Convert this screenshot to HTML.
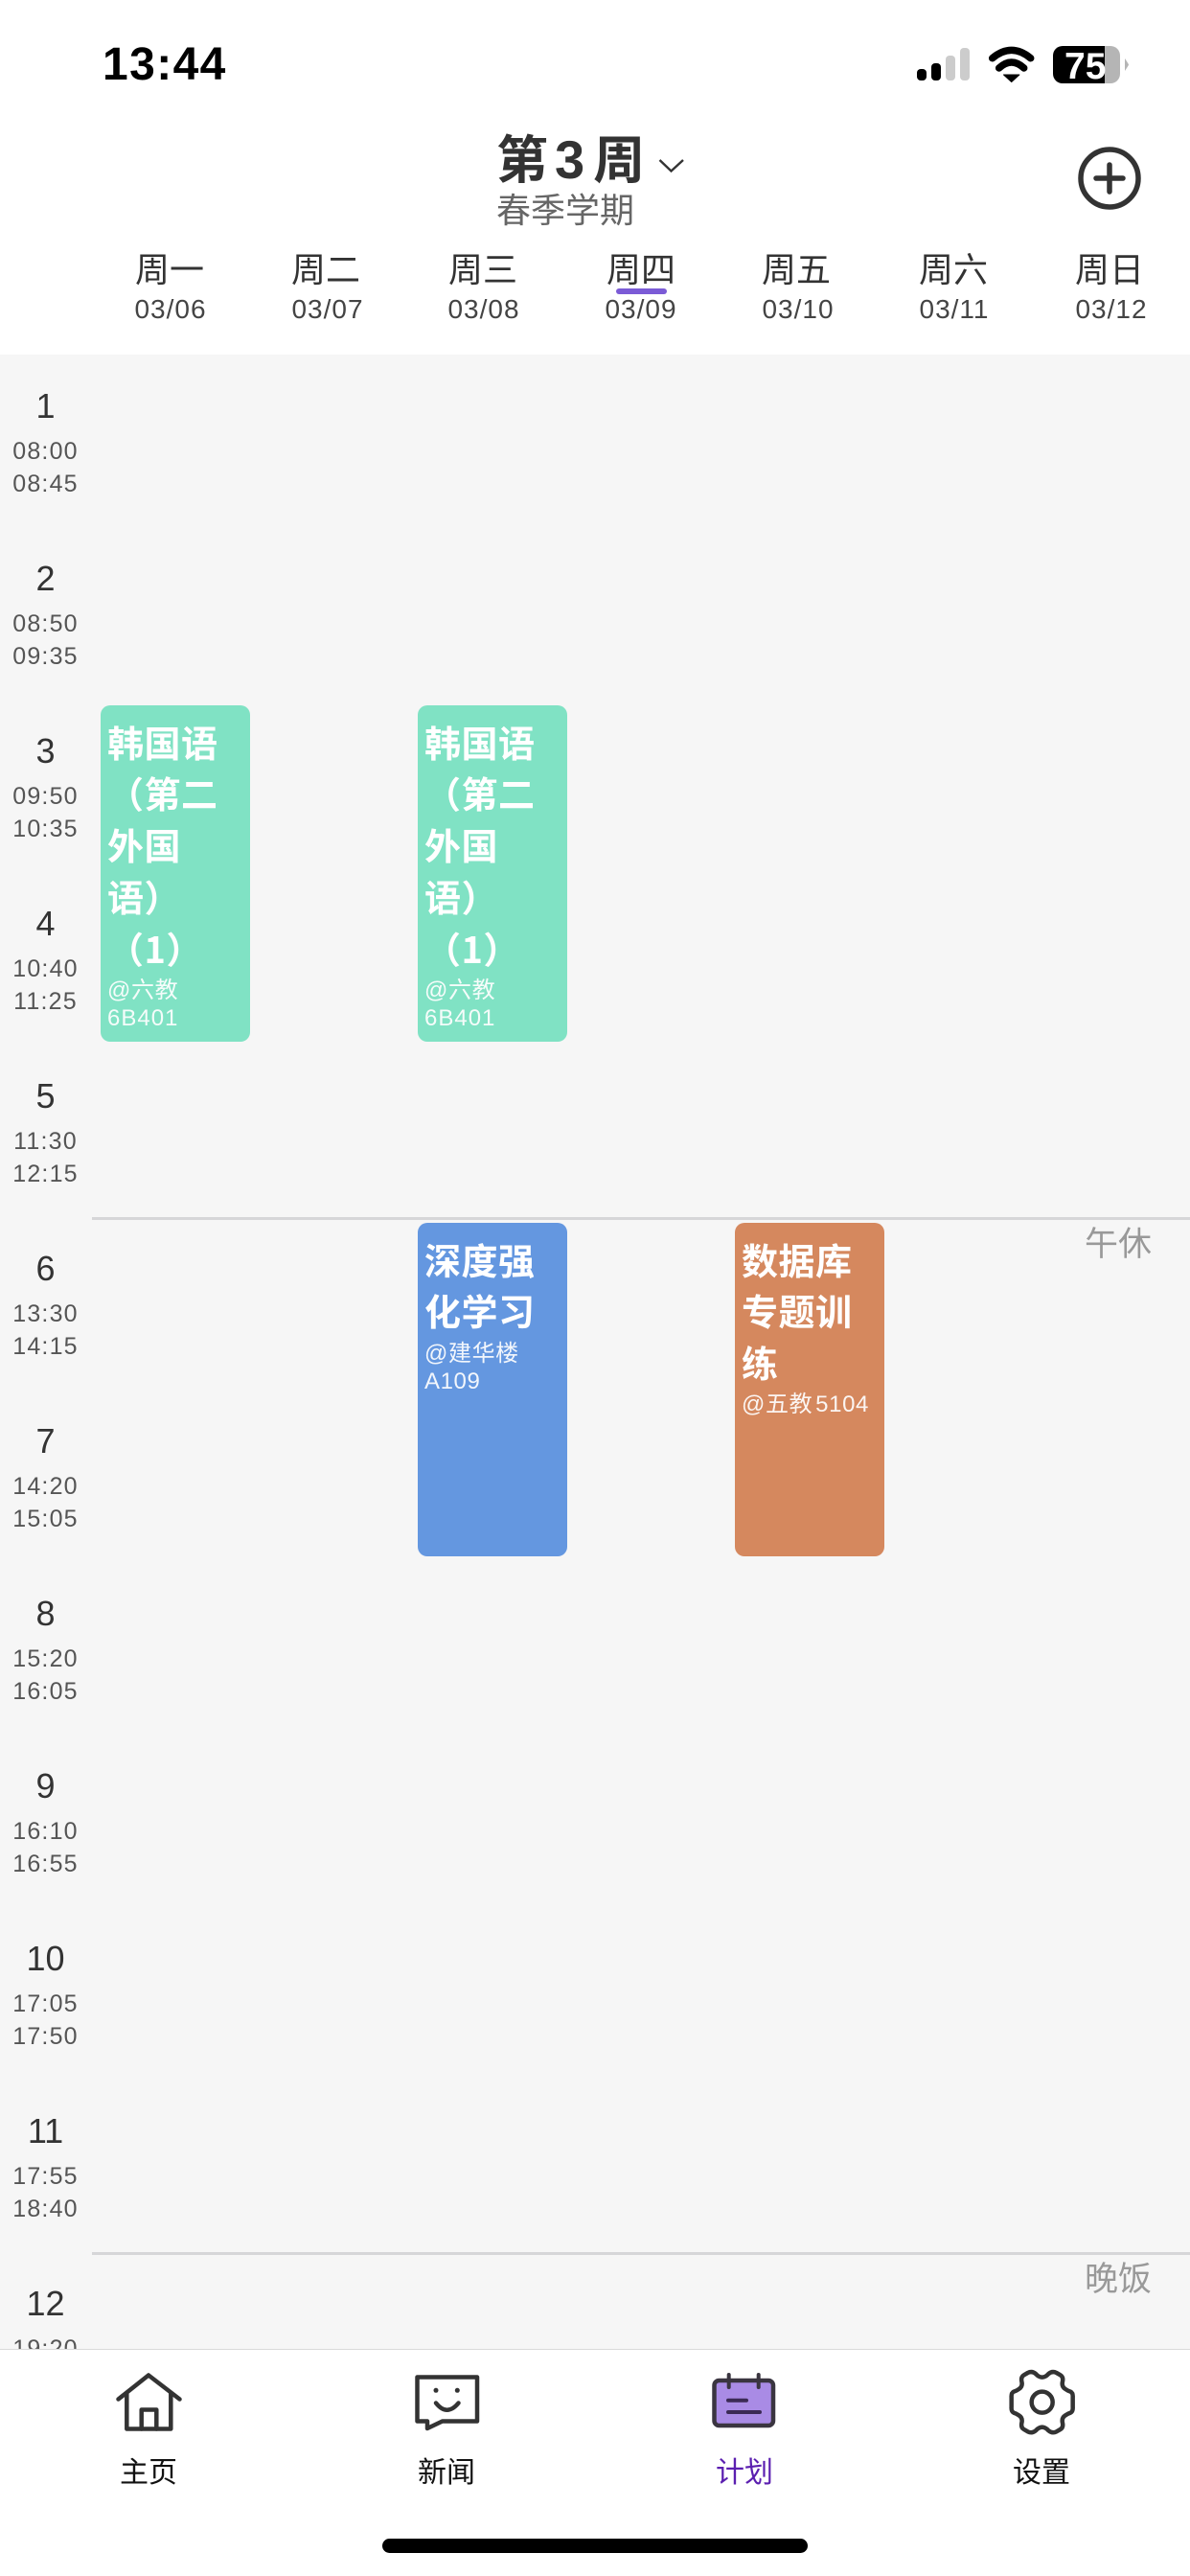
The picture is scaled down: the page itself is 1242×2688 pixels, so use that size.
<!DOCTYPE html>
<html lang="zh">
<head>
<meta charset="utf-8">
<title>课程表</title>
<style>
html,body{margin:0;padding:0;background:#fff;}
body{width:1242px;height:2688px;position:relative;overflow:hidden;font-family:"Liberation Sans","Noto Sans CJK SC",sans-serif;}
.a{position:absolute;white-space:nowrap;}
.grid{position:absolute;left:0;top:370px;width:1242px;height:2081px;background:#f6f6f6;overflow:hidden;}
.tabbar{position:absolute;left:0;top:2451px;width:1242px;height:237px;background:#fff;border-top:1px solid #d9d9d9;box-sizing:border-box;}
.d{position:absolute;width:120px;text-align:center;top:260px;font-size:36px;line-height:44px;color:#333;}
.dt{position:absolute;width:120px;text-align:center;top:303px;font-size:28px;line-height:40px;color:#444;letter-spacing:1px;}
.n{position:absolute;left:0;width:95px;text-align:center;font-size:36px;line-height:40px;color:#333;}
.t{position:absolute;left:0;width:95px;text-align:center;font-size:25px;line-height:34px;color:#555;letter-spacing:1.2px;margin-top:.5px;}
.card{position:absolute;width:156px;border-radius:10px;box-sizing:border-box;padding:10.5px 0 0 7px;color:#fff;white-space:nowrap;}
.card b{display:block;font-size:38px;line-height:53.75px;font-weight:700;letter-spacing:.5px;font-family:"Noto Sans CJK SC","Liberation Sans",sans-serif;}
.card span{display:block;font-size:24px;line-height:29px;letter-spacing:.6px;opacity:.92;margin-top:3.5px;}
.line{position:absolute;left:96px;width:1146px;height:3px;background:#d6d6d8;}
.side{position:absolute;left:1132px;font-size:35px;line-height:40px;color:#999;}
.lb{position:absolute;width:120px;text-align:center;top:2560px;font-size:30px;line-height:42px;color:#111;}
</style>
</head>
<body>

<div class="a" style="left:107px;top:38px;font-size:48px;line-height:60px;font-weight:700;color:#000;letter-spacing:1.4px;">13:44</div>

<div class="a" style="left:518px;top:128px;font-size:54px;line-height:70px;font-weight:700;color:#333;font-family:'Noto Sans CJK SC','Liberation Sans',sans-serif;">第<span style="font-family:'Liberation Sans';font-size:56px;margin:0 9px 0 7px;">3</span>周</div>
<div class="a" style="left:518px;top:197px;font-size:36px;line-height:46px;color:#666;">春季学期</div>

<div class="d" style="left:117px;">周一</div><div class="dt" style="left:118px;">03/06</div>
<div class="d" style="left:280px;">周二</div><div class="dt" style="left:282px;">03/07</div>
<div class="d" style="left:444px;">周三</div><div class="dt" style="left:445px;">03/08</div>
<div class="d" style="left:609px;">周四</div><div class="dt" style="left:609px;">03/09</div>
<div class="d" style="left:771px;">周五</div><div class="dt" style="left:773px;">03/10</div>
<div class="d" style="left:935px;">周六</div><div class="dt" style="left:936px;">03/11</div>
<div class="d" style="left:1098px;">周日</div><div class="dt" style="left:1100px;">03/12</div>
<div class="a" style="left:643px;top:301px;width:53px;height:6px;border-radius:3px;background:#7b5bd6;"></div>

<div class="grid">
  <div class="n" style="top:34px;">1</div><div class="t" style="top:83px;">08:00</div><div class="t" style="top:117px;">08:45</div>
  <div class="n" style="top:214px;">2</div><div class="t" style="top:263px;">08:50</div><div class="t" style="top:297px;">09:35</div>
  <div class="n" style="top:394px;">3</div><div class="t" style="top:443px;">09:50</div><div class="t" style="top:477px;">10:35</div>
  <div class="n" style="top:574px;">4</div><div class="t" style="top:623px;">10:40</div><div class="t" style="top:657px;">11:25</div>
  <div class="n" style="top:754px;">5</div><div class="t" style="top:803px;">11:30</div><div class="t" style="top:837px;">12:15</div>
  <div class="n" style="top:934px;">6</div><div class="t" style="top:983px;">13:30</div><div class="t" style="top:1017px;">14:15</div>
  <div class="n" style="top:1114px;">7</div><div class="t" style="top:1163px;">14:20</div><div class="t" style="top:1197px;">15:05</div>
  <div class="n" style="top:1294px;">8</div><div class="t" style="top:1343px;">15:20</div><div class="t" style="top:1377px;">16:05</div>
  <div class="n" style="top:1474px;">9</div><div class="t" style="top:1523px;">16:10</div><div class="t" style="top:1557px;">16:55</div>
  <div class="n" style="top:1654px;">10</div><div class="t" style="top:1703px;">17:05</div><div class="t" style="top:1737px;">17:50</div>
  <div class="n" style="top:1834px;">11</div><div class="t" style="top:1883px;">17:55</div><div class="t" style="top:1917px;">18:40</div>
  <div class="n" style="top:2014px;">12</div><div class="t" style="top:2063px;">19:20</div>
</div>

<div class="line" style="top:1270px;"></div>
<div class="line" style="top:2350px;"></div>
<div class="side" style="top:1279px;">午休</div>
<div class="side" style="top:2359px;">晚饭</div>

<div class="card" style="left:105px;top:736px;height:351px;background:#80e2c4;"><b>韩国语<br>（第二<br>外国<br>语）<br>（1）</b><span>@六教<br><i style="font-style:normal;letter-spacing:1px;">6B401</i></span></div>
<div class="card" style="left:436px;top:736px;height:351px;background:#80e2c4;"><b>韩国语<br>（第二<br>外国<br>语）<br>（1）</b><span>@六教<br><i style="font-style:normal;letter-spacing:1px;">6B401</i></span></div>
<div class="card" style="left:436px;top:1276px;height:348px;background:#6497e0;"><b>深度强<br>化学习</b><span>@建华楼<br>A109</span></div>
<div class="card" style="left:767px;top:1276px;height:348px;background:#d5885e;"><b>数据库<br>专题训<br>练</b><span>@五教<i style="font-style:normal;margin-left:3px;">5104</i></span></div>

<div class="tabbar"></div>
<div class="lb" style="left:95px;">主页</div>
<div class="lb" style="left:406px;">新闻</div>
<div class="lb" style="left:717px;color:#5b1fb0;">计划</div>
<div class="lb" style="left:1027px;">设置</div>
<div class="a" style="left:399px;top:2649px;width:444px;height:15px;border-radius:7.5px;background:#000;"></div>

<svg class="a" style="left:0;top:0;" width="1242" height="2688" viewBox="0 0 1242 2688" fill="none">
  <!-- signal -->
  <rect x="957" y="72" width="10" height="12" rx="4" fill="#000"/>
  <rect x="972" y="66" width="10" height="18" rx="4" fill="#000"/>
  <rect x="987" y="58" width="10" height="26" rx="4" fill="#ccc"/>
  <rect x="1002" y="50" width="10" height="34" rx="4" fill="#ccc"/>
  <!-- wifi -->
  <path d="M1035.7 60.7Q1055.7 44 1075.7 60.7" stroke="#000" stroke-width="7.5" stroke-linecap="round"/>
  <path d="M1042.7 71Q1055.7 59 1068.7 71" stroke="#000" stroke-width="7.5" stroke-linecap="round"/>
  <path d="M1047.5 78L1063.9 78L1055.7 85.5Z" fill="#000" stroke="#000" stroke-width="1" stroke-linejoin="round"/>
  <!-- battery -->
  <path d="M1109 48H1153V87H1109A10 10 0 0 1 1099 77V58A10 10 0 0 1 1109 48Z" fill="#000"/>
  <path d="M1153 48H1159A10 10 0 0 1 1169 58V77A10 10 0 0 1 1159 87H1153Z" fill="#b5b5b5"/>
  <path d="M1174 61Q1178 67 1178 67.5Q1178 68 1174 74Z" fill="#b5b5b5"/>
  <text x="1111" y="82" font-family="Liberation Sans" font-size="39" font-weight="700" fill="#fff">75</text>
  <!-- chevron -->
  <path d="M688.5 167L700.5 178.5L713 167" stroke="#333" stroke-width="2.4"/>
  <!-- plus -->
  <circle cx="1158" cy="186" r="30" stroke="#333" stroke-width="5.5"/>
  <path d="M1144 186H1172M1158 172V200" stroke="#333" stroke-width="5.5" stroke-linecap="round"/>
  <!-- home -->
  <g stroke="#333" stroke-width="4.5" stroke-linejoin="round" stroke-linecap="round">
    <path d="M123.5 2503.5L155 2478.5L187.5 2503.5"/>
    <path d="M132.3 2498V2534.5H178.3V2498"/>
    <path d="M147.7 2534.5V2514.5H163.3V2534.5"/>
  </g>
  <!-- message -->
  <g stroke="#333" stroke-width="4.5" stroke-linejoin="round" stroke-linecap="round">
    <path d="M435.5 2480.5H498V2526.5H461.7L446 2534V2526.5H435.5Z"/>
    <path d="M455 2507.5Q466.5 2522 478.5 2507.5"/>
  </g>
  <circle cx="455" cy="2494.3" r="2.5" fill="#333"/>
  <circle cx="477.3" cy="2494.3" r="2.5" fill="#333"/>
  <!-- calendar -->
  <rect x="745.5" y="2484" width="61.5" height="47" rx="5" fill="#a98be5" stroke="#3a3540" stroke-width="4.5"/>
  <path d="M760.7 2478V2491M791.7 2478V2491" stroke="#3a3540" stroke-width="4" stroke-linecap="round"/>
  <path d="M760 2504.7H779M760 2517H793" stroke="#3b2a55" stroke-width="4" stroke-linecap="round"/>
  <!-- gear -->
  <g transform="translate(1040 2465) scale(.33333)" stroke="#333" stroke-width="13.5" stroke-linejoin="round">
    <path d="M143 47Q132 46 124 37Q112 26 98 33L86 40Q76 46 79 60Q83 76 70 84Q62 90 54 92Q46 96 47 110L47 140Q46 154 54 158Q62 160 70 166Q83 174 79 190Q76 204 86 210L98 217Q112 224 124 213Q132 204 143 203Q154 204 162 213Q174 224 188 217L200 210Q210 204 207 190Q203 174 216 166Q224 160 232 158Q240 154 239 140L239 110Q240 96 232 92Q224 90 216 84Q203 76 207 60Q210 46 200 40L188 33Q174 26 162 37Q154 46 143 47Z"/>
    <circle cx="143" cy="125" r="33"/>
  </g>
</svg>

</body>
</html>
